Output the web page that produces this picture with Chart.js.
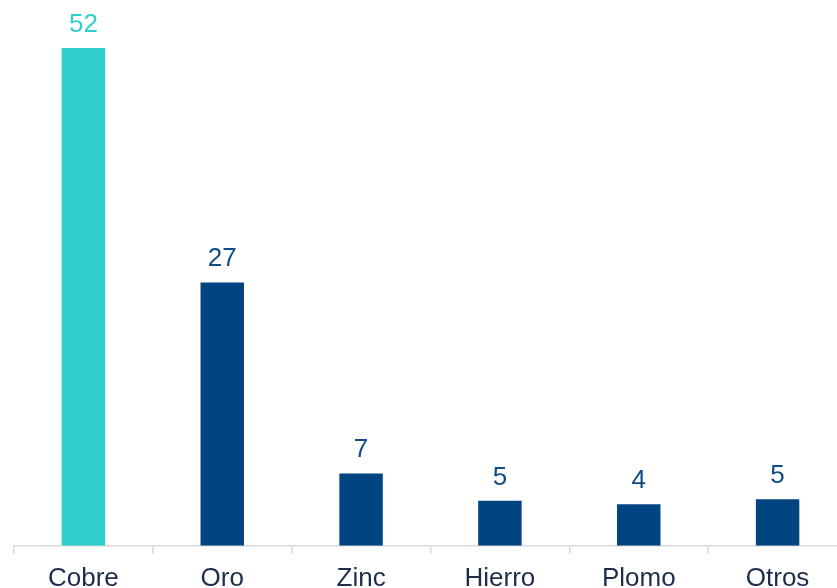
<!DOCTYPE html>
<html>
<head>
<meta charset="utf-8">
<script src="https://cdn.jsdelivr.net/npm/chart.js@4"></script>
<style>
    html, body { margin: 0; padding: 0; background: #fff; overflow: hidden; }
    #wrap { width: 847px; height: 603px; }
</style>
</head>
<body>
<div id="wrap"><canvas id="mineria"></canvas></div>
<script>
const categories = ["Cobre", "Oro", "Zinc", "Hierro", "Plomo", "Otros"];
const values = [52, 27.5, 7.56, 4.7, 4.33, 4.85];
const valueLabels = ["52", "27", "7", "5", "4", "5"];
const barColors = ["#2ECFCD", "#004481", "#004481", "#004481", "#004481", "#004481"];
const labelColors = ["#2ECFCD", "#0E4A86", "#0E4A86", "#0E4A86", "#0E4A86", "#0E4A86"];

// etiquetas encima de cada barra
const valueLabelPlugin = {
    id: "valueLabels",
    afterDatasetsDraw(chart) {
        const ctx = chart.ctx;
        const meta = chart.getDatasetMeta(0);
        ctx.save();
        ctx.font = "26px 'Liberation Sans', Arial, sans-serif";
        ctx.textAlign = "center";
        ctx.textBaseline = "alphabetic";
        meta.data.forEach((bar, i) => {
            ctx.fillStyle = labelColors[i];
            ctx.fillText(valueLabels[i], bar.x, bar.y - 16);
        });
        ctx.restore();
    }
};

// el lienzo es algo mayor que la ventana: la última categoría y las etiquetas quedan cortadas
const chart = new Chart(document.getElementById("mineria"), {
    type: "bar",
    data: {
        labels: categories,
        datasets: [{
            data: values,
            backgroundColor: barColors,
            borderWidth: 0,
            categoryPercentage: 1,
            barPercentage: 0.313
        }]
    },
    options: {
        responsive: true,
        maintainAspectRatio: false,
        animation: false,
        layout: { padding: { left: 14, right: 0, top: 0, bottom: 0 } },
        plugins: {
            legend: { display: false },
            tooltip: { enabled: false }
        },
        scales: {
            x: {
                grid: {
                    offset: true,
                    drawOnChartArea: false,
                    drawTicks: true,
                    tickLength: 8,
                    color: "#D9D9D9",
                    lineWidth: 1.5
                },
                border: { display: true, color: "#D9D9D9", width: 1.5 },
                ticks: {
                    color: "#1F2D4D",
                    padding: 9,
                    font: { family: "'Liberation Sans', Arial, sans-serif", size: 26 }
                }
            },
            y: {
                display: false,
                min: 0,
                max: 57
            }
        }
    },
    plugins: [valueLabelPlugin]
});
</script>
</body>
</html>
